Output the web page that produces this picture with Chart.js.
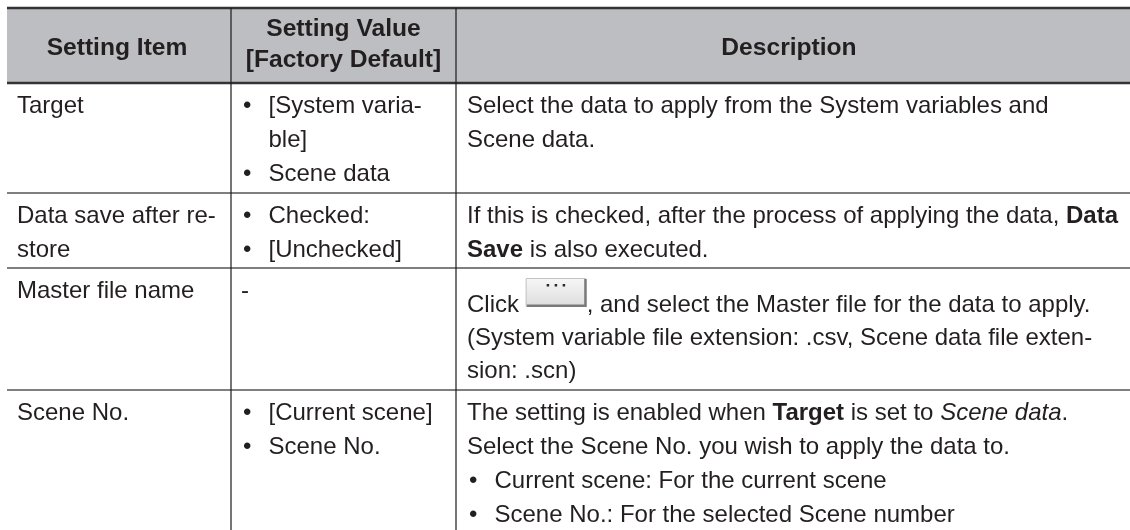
<!DOCTYPE html>
<html>
<head>
<meta charset="utf-8">
<script src="https://cdn.jsdelivr.net/npm/chart.js@4.4.1/dist/chart.umd.min.js"></script>
<style>
  html, body { margin: 0; padding: 0; background: #fff; }
  canvas { display: block; }
</style>
</head>
<body>
<canvas id="settingsTable" width="1130" height="530"></canvas>
<script>
// table content
const headers = [['Setting Item'], ['Setting Value', '[Factory Default]'], ['Description']];
const items = [['Target'], ['Data save after re-', 'store'], ['Master file name'], ['Scene No.']];
const values = [
    ['• [System varia-', '  ble]', '• Scene data'],
    ['• Checked:', '• [Unchecked]'],
    ['-'],
    ['• [Current scene]', '• Scene No.']
];
const descriptions = [
    ['Select the data to apply from the System variables and', 'Scene data.'],
    ['If this is checked, after the process of applying the data, **Data**', '**Save** is also executed.'],
    ['Click {btn}, and select the Master file for the data to apply.',
     '(System variable file extension: .csv, Scene data file exten-',
     'sion: .scn)'],
    ['The setting is enabled when **Target** is set to *Scene data*.',
     'Select the Scene No. you wish to apply the data to.',
     '• Current scene: For the current scene',
     '• Scene No.: For the selected Scene number']
];

// layout (in page units, mapped through the chart scales)
const colEdges = [7, 231, 456, 1130];
const headTop = 8, headBottom = 83;
const rowEdges = [83, 193, 268, 390, 530];
const headBaselines = [[55], [36, 67], [55]];
const firstLine = [29.5, 30, 29.5, 29.5];
const descFirstLine = [29.5, 30, 44, 29.5];
const lineStep = [34, 34, 33, 34];
const textPad = 10, bulletIndent = 27.5;

const FONT = '"Liberation Sans", Arial, sans-serif';
const BODY = 24, HEAD = 24.6;
const ink = '#231f20';

function drawRich(ctx, line, x, y) {
    const parts = line.split(/(\*\*[^*]+\*\*|\*[^*]+\*|\{btn\})/).filter(s => s.length);
    for (const p of parts) {
        if (p === '{btn}') {
            const w = 61, h = 29, top = y - 34;
            const g = ctx.createLinearGradient(0, top, 0, top + h);
            g.addColorStop(0, '#f7f7f7');
            g.addColorStop(1, '#dcdcdc');
            ctx.fillStyle = g;
            ctx.fillRect(x, top, w, h);
            ctx.strokeStyle = '#7a7a7a';
            ctx.lineWidth = 2.5;
            ctx.beginPath();
            ctx.moveTo(x + 1, top + h - 1.2); ctx.lineTo(x + w - 1.2, top + h - 1.2); ctx.lineTo(x + w - 1.2, top + 1);
            ctx.stroke();
            ctx.strokeStyle = '#c4c4c4';
            ctx.lineWidth = 1;
            ctx.beginPath();
            ctx.moveTo(x + 0.5, top + h - 1); ctx.lineTo(x + 0.5, top + 0.5); ctx.lineTo(x + w - 1, top + 0.5);
            ctx.stroke();
            ctx.fillStyle = '#2a2a2a';
            for (let i = -1; i <= 1; i++) ctx.fillRect(x + w / 2 + i * 8 - 1.5, top + 6, 2.5, 2.5);
            x += w;
            continue;
        }
        let txt = p, style = '';
        if (p.startsWith('**')) { txt = p.slice(2, -2); style = 'bold '; }
        else if (p.startsWith('*')) { txt = p.slice(1, -1); style = 'italic '; }
        ctx.font = style + BODY + 'px ' + FONT;
        ctx.fillStyle = ink;
        ctx.fillText(txt, x, y);
        x += ctx.measureText(txt).width;
    }
}

function drawLine(ctx, line, x, y) {
    if (line.startsWith('• ')) {
        ctx.font = BODY + 'px ' + FONT;
        ctx.fillStyle = ink;
        ctx.fillText('•', x + 2, y);
        drawRich(ctx, line.slice(2), x + bulletIndent, y);
    } else if (line.startsWith('  ')) {
        drawRich(ctx, line.slice(2), x + bulletIndent, y);
    } else {
        drawRich(ctx, line, x, y);
    }
}

const tablePlugin = {
    id: 'tablePlugin',
    afterDraw(chart) {
        const ctx = chart.ctx;
        const X = v => chart.scales.x.getPixelForValue(v);
        const Y = v => chart.scales.y.getPixelForValue(v);
        ctx.save();
        ctx.textBaseline = 'alphabetic';

        // header band
        ctx.fillStyle = '#bdbec2';
        ctx.fillRect(X(colEdges[0]), Y(headTop), X(colEdges[3]) - X(colEdges[0]), Y(headBottom) - Y(headTop));

        ctx.font = 'bold ' + HEAD + 'px ' + FONT;
        ctx.fillStyle = ink;
        ctx.textAlign = 'center';
        headers.forEach((lines, c) => {
            const cx = (X(colEdges[c]) + X(colEdges[c + 1])) / 2 - (c === 2 ? 4 : c === 0 ? 2 : 0);
            lines.forEach((t, i) => ctx.fillText(t, cx, Y(headTop + headBaselines[c][i] - 8)));
        });
        ctx.textAlign = 'left';

        // body cells
        items.forEach((lines, r) => {
            const top = rowEdges[r];
            lines.forEach((t, i) => drawLine(ctx, t, X(colEdges[0] + textPad), Y(top + firstLine[r] + i * lineStep[r])));
            values[r].forEach((t, i) => drawLine(ctx, t, X(colEdges[1] + textPad), Y(top + firstLine[r] + i * lineStep[r])));
            descriptions[r].forEach((t, i) => drawLine(ctx, t, X(colEdges[2] + textPad + 1), Y(top + descFirstLine[r] + i * lineStep[r])));
        });

        // rules
        ctx.strokeStyle = '#333';
        ctx.lineWidth = 2.5;
        [headTop, headBottom].forEach(v => {
            ctx.beginPath();
            ctx.moveTo(X(colEdges[0]), Y(v)); ctx.lineTo(X(colEdges[3]), Y(v));
            ctx.stroke();
        });
        ctx.strokeStyle = '#555';
        ctx.lineWidth = 1.6;
        rowEdges.slice(1, -1).forEach(v => {
            ctx.beginPath();
            ctx.moveTo(X(colEdges[0]), Y(v)); ctx.lineTo(X(colEdges[3]), Y(v));
            ctx.stroke();
        });
        ctx.strokeStyle = '#1a1a1a';
        ctx.lineWidth = 1.2;
        colEdges.slice(1, -1).forEach(v => {
            ctx.beginPath();
            ctx.moveTo(X(v), Y(headTop)); ctx.lineTo(X(v), Y(rowEdges[rowEdges.length - 1]));
            ctx.stroke();
        });
        ctx.restore();
    }
};

new Chart(document.getElementById('settingsTable').getContext('2d'), {
    type: 'scatter',
    data: { datasets: [{ data: [] }] },
    options: {
        responsive: false,
        animation: false,
        layout: { padding: 0 },
        plugins: { legend: { display: false }, tooltip: { enabled: false } },
        scales: {
            x: { type: 'linear', min: 0, max: 1130, display: false },
            y: { type: 'linear', min: 0, max: 530, reverse: true, display: false }
        }
    },
    plugins: [tablePlugin]
});
</script>
</body>
</html>
